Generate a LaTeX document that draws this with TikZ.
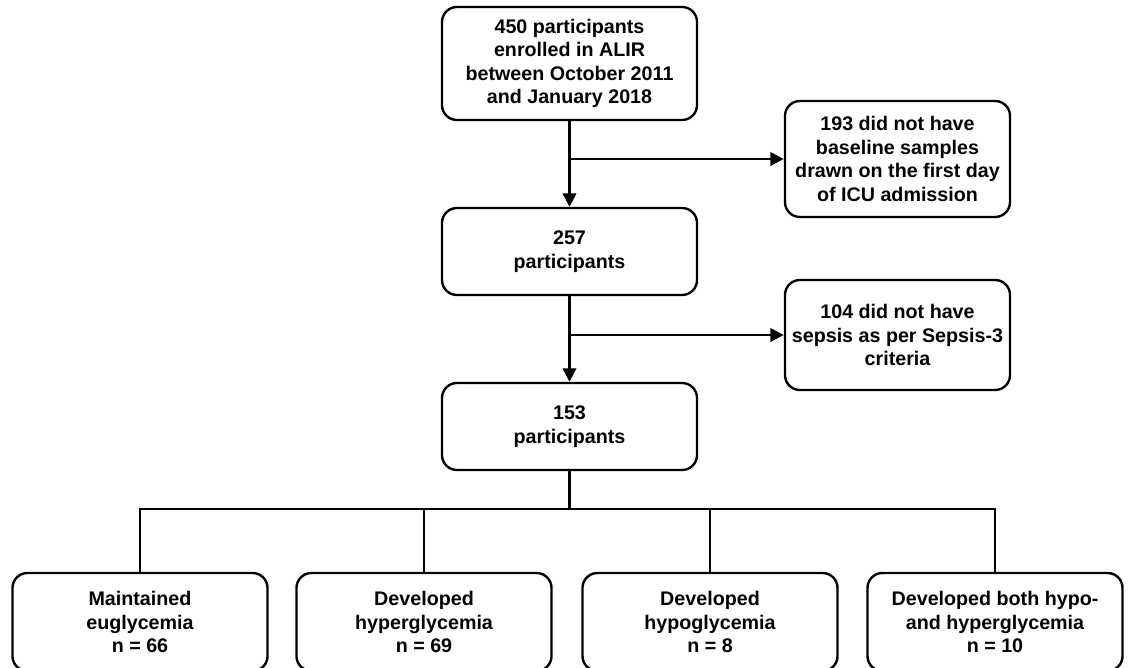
\documentclass[tikz,border=0pt]{standalone}
\usepackage{fontspec}
\setmainfont{Liberation Sans}
\usetikzlibrary{arrows.meta}

\tikzset{
  box/.style={draw, line width=1.7pt, rounded corners=0.375cm, align=center,
    minimum width=6.375cm, font=\bfseries\fontsize{14}{16.7}\selectfont},
  sidebox/.style={box, minimum width=5.625cm, inner xsep=2pt},
  link/.style={line width=1.7pt},
  arr/.style={link, -{Triangle[length=9.5pt,width=9.5pt]}}
}

\begin{document}
\begin{tikzpicture}[x=0.025cm, y=-0.025cm]
    \useasboundingbox (0,0) rectangle (1129,668);
    \clip (0,0) rectangle (1129,668);
    % main column
    \node[box, minimum height=2.825cm] (enrolled) at (569.5,63.5) {450 participants\\enrolled in ALIR\\between October 2011\\and January 2018};
    \node[box, minimum height=2.175cm] (p257) at (569.5,251.5) {257\\participants};
    \node[box, minimum height=2.175cm] (p153) at (569.5,426.5) {153\\participants};
    % exclusions
    \node[sidebox, minimum height=2.9cm] (nosample) at (897.5,159) {193 did not have\\baseline samples\\drawn on the first day\\of ICU admission};
    \node[sidebox, minimum height=2.75cm] (nosepsis) at (897.5,335) {104 did not have\\sepsis as per Sepsis-3\\criteria};
    % groups
    \node[box, minimum height=2.45cm] (eu) at (140,622) {Maintained\\euglycemia\\n = 66};
    \node[box, minimum height=2.45cm] (hyper) at (424,622) {Developed\\hyperglycemia\\n = 69};
    \node[box, minimum height=2.45cm] (hypo) at (710,622) {Developed\\hypoglycemia\\n = 8};
    \node[box, minimum height=2.45cm] (both) at (995,622) {Developed both hypo-\\and hyperglycemia\\n = 10};
    \coordinate (split1) at (enrolled.south |- nosample.west);
    \coordinate (split2) at (p257.south |- nosepsis.west);
    \coordinate (bar) at (569.5,509);

    \draw[arr] (enrolled) -- (p257);
    \draw[arr] (split1) -- (nosample);
    \draw[arr] (p257) -- (p153);
    \draw[arr] (split2) -- (nosepsis);
    \draw[link] (p153) -- (bar);
    \draw[link] (eu) |- (both |- bar) -- (both);
    \foreach \g in {hyper, hypo}
        \draw[link] (\g) -- (\g |- bar);
\end{tikzpicture}
\end{document}
